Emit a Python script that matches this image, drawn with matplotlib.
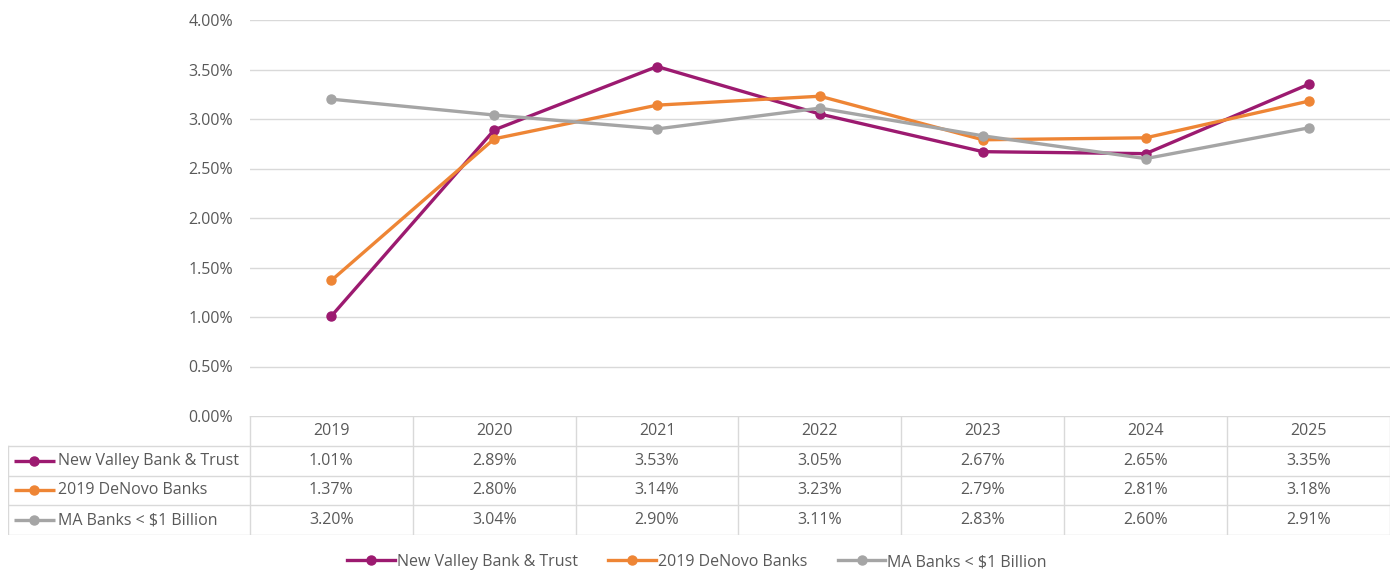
import matplotlib
matplotlib.use("Agg")
import matplotlib.pyplot as plt
import numpy as np
from matplotlib.lines import Line2D

# Data (percent)
years = ["2019", "2020", "2021", "2022", "2023", "2024", "2025"]
series_names = ["New Valley Bank & Trust", "2019 DeNovo Banks", "MA Banks < $1 Billion"]
new_valley = [1.01, 2.89, 3.53, 3.05, 2.67, 2.65, 3.35]
denovo = [1.37, 2.80, 3.14, 3.23, 2.79, 2.81, 3.18]
ma_banks = [3.20, 3.04, 2.90, 3.11, 2.83, 2.60, 2.91]
y_ticks = [0, 0.5, 1.0, 1.5, 2.0, 2.5, 3.0, 3.5, 4.0]

colors = ["#9C1A70", "#EE8535", "#A5A5A5"]
text_col = "#595959"
grid_col = "#D9D9D9"
fs = 11.5

plt.rcParams["font.family"] = ["Open Sans", "DejaVu Sans"]

W, H = 1395, 573
fig = plt.figure(figsize=(W / 100, H / 100), dpi=100)

# main plot area
ax = fig.add_axes([250 / W, 1 - 416 / H, 1140 / W, 396 / H])
x = np.arange(len(years))
all_series = [new_valley, denovo, ma_banks]
for vals, c, name in zip(all_series, colors, series_names):
    ax.plot(x, vals, color=c, lw=2.4, marker="o", ms=6.5, label=name, zorder=3)

ax.set_xlim(-0.5, len(years) - 0.5)
ax.set_ylim(0, 4)
ax.set_yticks(y_ticks)
ax.set_yticklabels([f"{v:.2f}%" for v in y_ticks], color=text_col, fontsize=fs)
ax.tick_params(axis="y", length=0, pad=12)
ax.set_xticks([])
for v in y_ticks[1:]:
    ax.axhline(v, color=grid_col, lw=1, zorder=1)
for s in ax.spines.values():
    s.set_visible(False)

# data table under the plot
left_w = 242 / 163  # width of the label column in category units
tax = fig.add_axes([8 / W, 1 - 535 / H, 1382 / W, 119 / H])
tax.set_xlim(-0.5 - left_w, len(years) - 0.5)
tax.set_ylim(0, 4)
tax.axis("off")
lc = "#D9D9D9"
x0 = -0.5 - left_w
x1 = len(years) - 0.5
# horizontal lines
tax.plot([-0.5, x1], [4, 4], color=lc, lw=1)
for yy in [3, 2, 1, 0]:
    tax.plot([x0, x1], [yy, yy], color=lc, lw=1)
# vertical lines
tax.plot([x0, x0], [0, 3], color=lc, lw=1)
for k in range(len(years) + 1):
    tax.plot([k - 0.5, k - 0.5], [0, 4], color=lc, lw=1)

for k, yr in enumerate(years):
    tax.text(k, 3.5, yr, ha="center", va="center", color=text_col, fontsize=fs)
for r, (vals, c, name) in enumerate(zip(all_series, colors, series_names)):
    yc = 2.5 - r
    for k, v in enumerate(vals):
        tax.text(k, yc, f"{v:.2f}%", ha="center", va="center", color=text_col, fontsize=fs)
    lx = x0 + 6 / 163
    tax.plot([lx, lx + 41 / 163], [yc, yc], color=c, lw=2.4, solid_capstyle="butt")
    tax.plot([lx + 20 / 163], [yc], marker="o", color=c, ms=6.5)
    tax.text(lx + 44 / 163, yc, name, ha="left", va="center", color=text_col, fontsize=fs)

# legend at the bottom
handles = [Line2D([], [], color=c, lw=2.4, marker="o", ms=6.5) for c in colors]
fig.legend(handles, series_names, loc="center", bbox_to_anchor=(697 / W, 1 - 562 / H),
           ncol=3, frameon=False, fontsize=fs, labelcolor=text_col,
           handlelength=3.0, handletextpad=0.1, columnspacing=1.9)

fig.savefig("out.png", dpi=100)
